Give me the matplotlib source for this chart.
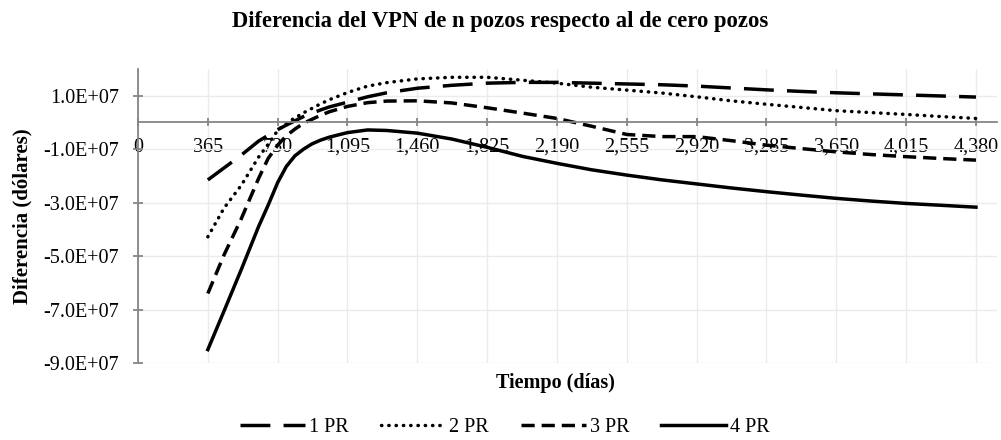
import numpy as np
import matplotlib
matplotlib.use("Agg")
import matplotlib.pyplot as plt
from matplotlib.ticker import FuncFormatter, FixedLocator

plt.rcParams["font.family"] = ["Liberation Serif", "DejaVu Serif"]

# days since start
days = [365, 450, 540, 630, 680, 730, 775, 820, 865, 910, 955, 1000, 1095, 1200, 1300, 1460,
        1640, 1825, 2010, 2190, 2370, 2555, 2740, 2920, 3100, 3285, 3470, 3650, 3830, 4015,
        4200, 4380]

# NPV difference, in units of 1e7 dollars
pr1 = [-2.15, -1.70, -1.22, -0.70, -0.48, -0.27, -0.10, 0.06, 0.22, 0.35, 0.47, 0.58, 0.76,
       0.96, 1.11, 1.28, 1.39, 1.47, 1.50, 1.50, 1.47, 1.44, 1.41, 1.36, 1.29, 1.22, 1.16,
       1.11, 1.07, 1.03, 0.99, 0.95]
pr2 = [-4.28, -3.20, -2.35, -1.30, -0.82, -0.30, -0.03, 0.17, 0.36, 0.53, 0.70, 0.85, 1.12,
       1.36, 1.49, 1.63, 1.69, 1.69, 1.58, 1.47, 1.32, 1.21, 1.10, 0.96, 0.81, 0.68, 0.56,
       0.44, 0.37, 0.30, 0.22, 0.15]
pr3 = [-6.40, -4.95, -3.60, -2.10, -1.35, -0.85, -0.50, -0.25, -0.03, 0.12, 0.27, 0.40, 0.60,
       0.74, 0.80, 0.81, 0.73, 0.55, 0.35, 0.15, -0.14, -0.45, -0.53, -0.53, -0.68, -0.85,
       -0.98, -1.10, -1.20, -1.28, -1.35, -1.41]
pr4 = [-8.50, -7.05, -5.50, -3.90, -3.10, -2.25, -1.65, -1.25, -1.00, -0.80, -0.66, -0.55,
       -0.38, -0.28, -0.30, -0.40, -0.62, -0.93, -1.27, -1.53, -1.77, -1.97, -2.15, -2.30,
       -2.45, -2.59, -2.72, -2.84, -2.94, -3.03, -3.10, -3.17]

labels = ["1 PR", "2 PR", "3 PR", "4 PR"]
xticks = np.arange(0, 4381, 365)

fig = plt.figure(figsize=(10.01, 4.40), dpi=100)
ax = fig.add_axes([138 / 1001, 1 - 363 / 440, (997 - 138) / 1001, (363 - 69) / 440])

d = np.array(days)
lw = 2.5
ax.plot(d, np.array(pr1) * 1e7, color="black", lw=lw, linestyle=(0, (8.6, 3.8)), label=labels[0])
ax.plot(d, np.array(pr2) * 1e7, color="black", lw=lw, linestyle=(0, (0.1, 2.0)),
        dash_capstyle="round", label=labels[1])
ax.plot(d, np.array(pr3) * 1e7, color="black", lw=lw, linestyle=(0, (3.8, 2.0)), label=labels[2])
ax.plot(d, np.array(pr4) * 1e7, color="black", lw=lw, linestyle="-", label=labels[3])

ax.set_xlim(0, 4490)
ax.set_ylim(-9e7, 2e7)
ax.xaxis.set_major_locator(FixedLocator(xticks))
ax.yaxis.set_major_locator(FixedLocator(np.arange(-9e7, 1.1e7, 2e7)))
ax.xaxis.set_major_formatter(FuncFormatter(lambda v, p: f"{int(v):,}"))
ax.yaxis.set_major_formatter(FuncFormatter(lambda v, p: f"{v:.1E}"))

ax.grid(True, color="#ebebeb", lw=1.0)
ax.set_axisbelow(True)

gray = "#868686"
for s in ["top", "right"]:
    ax.spines[s].set_visible(False)
ax.spines["bottom"].set_position(("data", 0))
ax.spines["bottom"].set_color(gray)
ax.spines["left"].set_color(gray)
ax.spines["bottom"].set_linewidth(1.3)
ax.spines["left"].set_linewidth(1.3)
ax.tick_params(axis="x", direction="inout", length=6, width=1.3, color=gray,
               labelsize=14.5, pad=8)
ax.tick_params(axis="y", direction="inout", length=7, width=1.3, color=gray,
               labelsize=14.5, pad=10)

ax.set_ylabel("Diferencia (dólares)", fontsize=15, fontweight="bold")
ax.yaxis.set_label_coords((32 - 138) / 859, 0.5)

fig.text(555 / 1001, 1 - 383 / 440, "Tiempo (días)", ha="center", va="center",
         fontsize=14.5, fontweight="bold")
fig.text(500 / 1001, 1 - 21 / 440, "Diferencia del VPN de n pozos respecto al de cero pozos",
         ha="center", va="center", fontsize=16.3, fontweight="bold")

fig.legend(loc="center", bbox_to_anchor=(505 / 1001, 1 - 427 / 440), ncol=4, frameon=False,
           fontsize=14.5, handlelength=3.2, columnspacing=1.6, handletextpad=0.2)

fig.savefig("out.png", dpi=100)
